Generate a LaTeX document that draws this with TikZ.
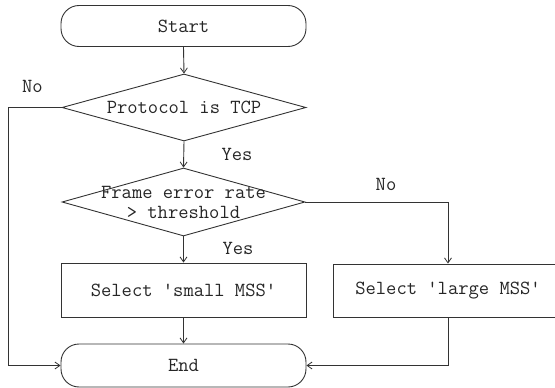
\documentclass[tikz,border=0pt]{standalone}
\usepackage{fontspec}
\usetikzlibrary{shapes.geometric,arrows.meta}
\begin{document}
\begin{tikzpicture}[x=1pt,y=-1pt,
  ln/.style={draw=black!80,line width=0.9pt},
  arr/.style={ln,-{Straight Barb[length=5pt,width=7pt,line width=0.8pt]}},
  term/.style={ln,rounded corners=18pt,inner sep=0pt,minimum width=245pt},
  proc/.style={ln,rectangle,inner sep=0pt},
  dec/.style={ln,diamond,inner sep=0pt,minimum width=244pt,minimum height=67pt},
  txt/.style={font=\ttfamily\fontsize{20}{20}\selectfont,text=black!85,inner sep=0pt},
]
\useasboundingbox (0,0) rectangle (555,388);
\clip (0,0) rectangle (555,388);
\node[term,minimum height=41pt] (start) at (183.5,26) {};
\node[txt] at (start) {Start};
\node[dec] (d1) at (184,107.5) {};
\node[txt] at (d1) {Protocol is TCP};
\node[dec,minimum height=68pt,minimum width=243pt] (d2) at (183.5,202) {};
\node[txt,align=center] at (d2) {Frame error rate\\> threshold};
\node[proc,minimum width=245pt,minimum height=54pt] (small) at (183.5,290) {};
\node[txt] at (small) {Select \textquotesingle small MSS\textquotesingle};
\node[proc,minimum width=230pt,minimum height=53pt] (large) at (448,290.5) {};
\node[txt] at (large) {Select \textquotesingle large MSS\textquotesingle};
\node[term,minimum height=43pt] (end) at (183.5,365.5) {};
\node[txt] at (end) {End};
\coordinate (cl) at (8,107.5);
\coordinate (cr) at (448,202);
\draw[arr] (start.south) -- (d1.north);
\draw[arr] (d1.south) -- (d2.north);
\draw[arr] (d2.south) -- (small.north);
\draw[arr] (small.south) -- (end.north);
\draw[arr] (d1.west) -- (cl) |- (end.west);
\draw[arr] (d2.east) -- (cr) -- (large.north);
\draw[arr] (large.south) |- (end.east);
\node[txt] (no1) at (32.5,86) {No};
\node[txt] (yes1) at (237,154) {Yes};
\node[txt] (yes2) at (238,248) {Yes};
\node[txt] (no2) at (386,184) {No};
\end{tikzpicture}
\end{document}
